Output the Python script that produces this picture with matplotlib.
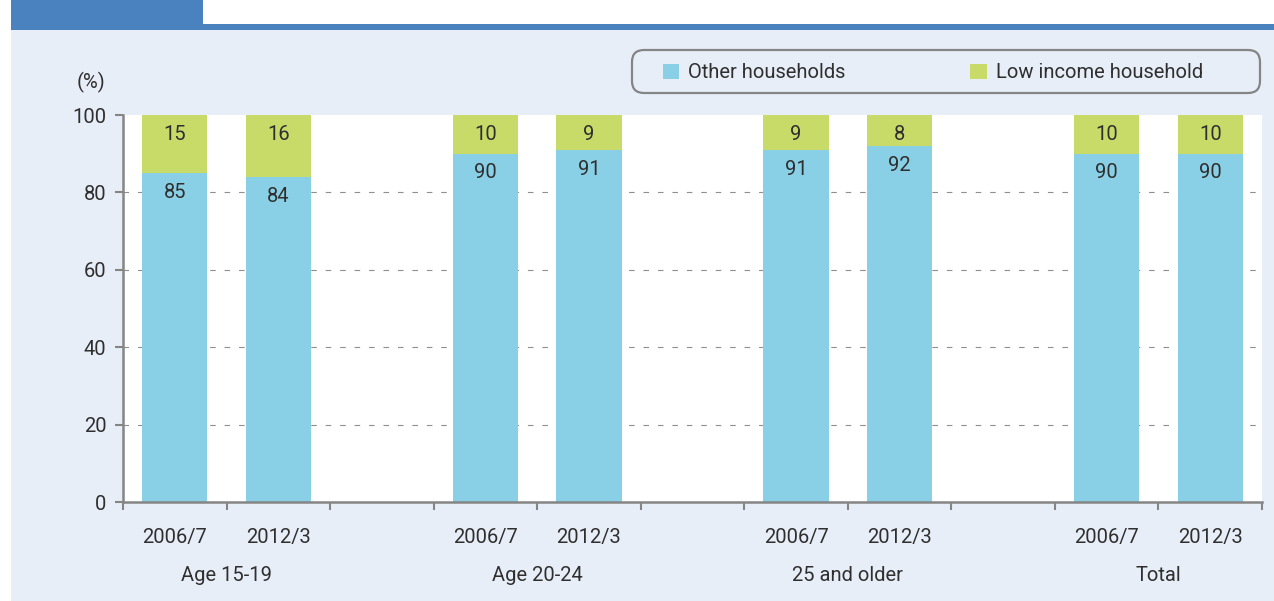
import numpy as np
import matplotlib
matplotlib.use('Agg')
import matplotlib.pyplot as plt
from matplotlib.patches import Rectangle, FancyBboxPatch
from matplotlib.transforms import IdentityTransform

plt.rcParams['font.family'] = ['Roboto', 'DejaVu Sans']

# data
groups = ['Age 15-19', 'Age 20-24', '25 and older', 'Total']
years = ['2006/7', '2012/3']
other = [85, 84, 90, 91, 91, 92, 90, 90]
low_income = [15, 16, 10, 9, 9, 8, 10, 10]
grid_at = [20, 40, 60, 80]

# colours
bg = '#e7eef8'
blue_top = '#4a82c0'
c_other = '#89d0e6'
c_low = '#c8db69'
grey = '#858585'
txt = '#2f2f2f'
fs = 14.5

fig = plt.figure(figsize=(12.74, 6.01), dpi=100, facecolor='white')

# page decoration
fig.patches.append(Rectangle((11/1274, 0), 1, 571/601, transform=fig.transFigure,
                             facecolor=bg, edgecolor='none', zorder=-5))
fig.patches.append(Rectangle((11/1274, 571/601), 1, 6/601, transform=fig.transFigure,
                             facecolor=blue_top, edgecolor='none', zorder=-5))
fig.patches.append(Rectangle((11/1274, 571/601), 192/1274, 30/601, transform=fig.transFigure,
                             facecolor=blue_top, edgecolor='none', zorder=-5))

ax = fig.add_axes([123/1274, 99/601, 1139/1274, 387/601])
ax.set_facecolor('white')

# bar slots: two per group with a gap between groups
pos = []
for g in range(len(groups)):
    pos += [g * 3, g * 3 + 1]
pos = np.array(pos)

w = 0.63
b1 = ax.bar(pos, other, w, color=c_other, label='Other households', zorder=3)
b2 = ax.bar(pos, low_income, w, bottom=other, color=c_low, label='Low income household', zorder=3)

for x, o, l in zip(pos, other, low_income):
    ax.annotate(str(o), (x, o), xytext=(0, -7), textcoords='offset points',
                ha='center', va='top', fontsize=fs, color=txt, zorder=4)
    ax.annotate(str(l), (x, o + l), xytext=(0, -7), textcoords='offset points',
                ha='center', va='top', fontsize=fs, color=txt, zorder=4)

ax.set_xlim(-0.5, 10.5)
ax.set_ylim(0, 100)

ax.set_yticks(np.arange(0, 101, 20))
ax.tick_params(axis='y', length=6, width=1.5, color=grey, pad=6, labelsize=fs, labelcolor=txt)
ax.hlines(grid_at, -0.5, 10.5, colors='#8f8f8f', linestyles=(0, (5, 8)), linewidth=0.8, zorder=1)

ax.set_xticks(np.arange(-0.5, 11, 1))
ax.set_xticklabels([])
ax.tick_params(axis='x', which='major', length=6, width=1.5, color=grey)
ax.set_xticks(pos, minor=True)
ax.set_xticklabels(years * len(groups), minor=True)
ax.tick_params(axis='x', which='minor', length=0, pad=19, labelsize=fs, labelcolor=txt)

for s in ['top', 'right']:
    ax.spines[s].set_visible(False)
for s in ['left', 'bottom']:
    ax.spines[s].set_color(grey)
    ax.spines[s].set_linewidth(1.8)
    ax.spines[s].set_zorder(5)

for g, name in enumerate(groups):
    ax.text(g * 3 + 0.5, -0.189, name, transform=ax.get_xaxis_transform(),
            ha='center', va='center', fontsize=fs, color=txt)

ax.text(-0.028, 1.083, '(%)', transform=ax.transAxes, ha='center', va='center',
        fontsize=fs, color=txt)

# legend with a rounded frame
fig.patches.append(FancyBboxPatch((632, 601 - 93), 628, 43,
                                  boxstyle='round,pad=0,rounding_size=12',
                                  transform=IdentityTransform(), facecolor=bg,
                                  edgecolor=grey, linewidth=1.6, zorder=1))
leg = fig.legend(handles=[b1, b2], loc='center left', ncol=2, frameon=False,
                 bbox_to_anchor=(663/1274, 1 - 73/601), borderaxespad=0, borderpad=0,
                 fontsize=fs, handlelength=0.8, handleheight=0.8, handletextpad=0.45,
                 columnspacing=6.2, labelcolor=txt)

fig.savefig('out.png', dpi=100, facecolor=fig.get_facecolor())
